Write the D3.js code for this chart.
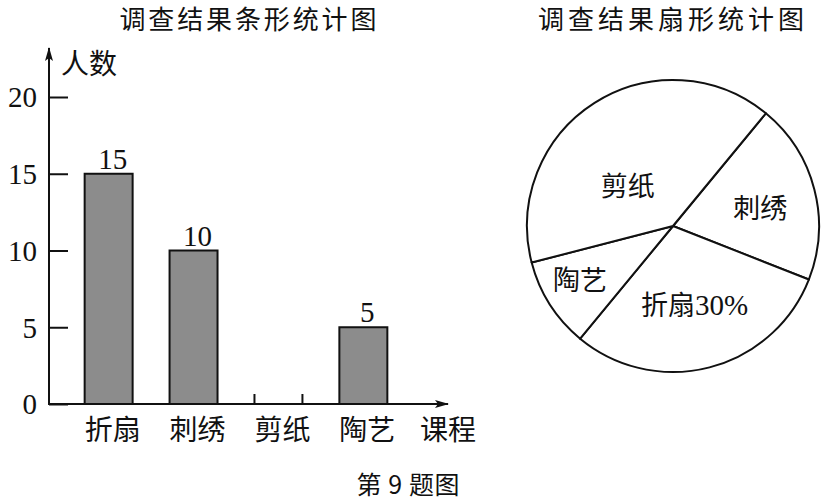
<!DOCTYPE html>
<html lang="zh">
<head>
<meta charset="UTF-8">
<title>调查结果统计图</title>
<script src="https://d3js.org/d3.v7.min.js"></script>
<style>
  body { margin: 0; background: #fff; }
  svg { display: block; }
  .cjk { font-family: "Noto Sans CJK SC", sans-serif; }
  .num { font-family: "Liberation Serif", "Times New Roman", serif; }
</style>
</head>
<body>
<div id="chart"></div>
<script>
// data
const courses = ["折扇", "刺绣", "剪纸", "陶艺"];
const counts = [15, 10, null, 5];          // 剪纸 bar left blank in the figure
const yTicks = [0, 5, 10, 15, 20];
const pieOrder = ["刺绣", "折扇", "陶艺", "剪纸"];
const pieCounts = [10, 15, 5, 20];
const pieLabels = ["刺绣", "折扇", "陶艺", "剪纸"];

const W = 824, H = 502;
const svg = d3.select("#chart").append("svg")
    .attr("width", W).attr("height", H);

const defs = svg.append("defs");
defs.append("marker")
    .attr("id", "arrow")
    .attr("viewBox", "0 0 14 8")
    .attr("refX", 13).attr("refY", 4)
    .attr("markerWidth", 14).attr("markerHeight", 8)
    .attr("markerUnits", "userSpaceOnUse")
    .attr("orient", "auto")
    .append("path")
    .attr("d", "M0,0 L14,4 L0,8 L3,4 Z")
    .attr("fill", "#111");

// ---------- bar chart ----------
const x0 = 49, yBase = 404;
const x = d3.scaleBand()
    .domain(courses)
    .range([x0, 423])
    .paddingInner(0.435)
    .paddingOuter(0.42);
const y = d3.scaleLinear().domain([0, 20]).range([yBase, 97]);

svg.append("text").attr("class", "cjk")
    .attr("x", 248).attr("y", 29)
    .attr("text-anchor", "middle")
    .attr("font-size", 26).attr("fill", "#111")
    .attr("textLength", 257).attr("lengthAdjust", "spacing")
    .text("调查结果条形统计图");

const yAxis = svg.append("g")
    .attr("transform", `translate(${x0},0)`)
    .call(d3.axisLeft(y).tickValues(yTicks)
        .tickSizeInner(-19).tickSizeOuter(0).tickPadding(12));
yAxis.select(".domain").remove();
yAxis.selectAll(".tick line").attr("stroke", "#111").attr("stroke-width", 2);
yAxis.selectAll(".tick text")
    .attr("class", "num")
    .attr("font-size", 29)
    .attr("fill", "#111")
    .attr("dy", "0.34em");

// axis lines with arrows
svg.append("line")
    .attr("x1", x0).attr("y1", yBase + 1)
    .attr("x2", x0).attr("y2", 48)
    .attr("stroke", "#111").attr("stroke-width", 2)
    .attr("marker-end", "url(#arrow)");
svg.append("line")
    .attr("x1", x0 - 1).attr("y1", yBase)
    .attr("x2", 448).attr("y2", yBase)
    .attr("stroke", "#111").attr("stroke-width", 2)
    .attr("marker-end", "url(#arrow)");

svg.append("text").attr("class", "cjk")
    .attr("x", 89).attr("y", 64).attr("dy", "0.36em")
    .attr("text-anchor", "middle")
    .attr("font-size", 28).attr("fill", "#111")
    .text("人数");

const barData = courses.map((c, i) => ({ course: c, value: counts[i] }));

svg.append("g").selectAll("rect")
    .data(barData.filter(d => d.value != null))
    .join("rect")
    .attr("x", d => x(d.course))
    .attr("y", d => y(d.value))
    .attr("width", x.bandwidth())
    .attr("height", d => y(0) - y(d.value))
    .attr("fill", "#8c8c8c")
    .attr("stroke", "#111")
    .attr("stroke-width", 2);

// value labels
svg.append("g").selectAll("text")
    .data(barData.filter(d => d.value != null))
    .join("text")
    .attr("class", "num")
    .attr("x", d => x(d.course) + x.bandwidth() / 2 + 4)
    .attr("y", d => y(d.value) - 5)
    .attr("text-anchor", "middle")
    .attr("font-size", 29).attr("fill", "#111")
    .text(d => d.value);

// small edge marks for the empty bar
const empty = barData.filter(d => d.value == null);
svg.append("g").selectAll("line")
    .data(empty.flatMap(d => [x(d.course), x(d.course) + x.bandwidth()]))
    .join("line")
    .attr("x1", d => d).attr("x2", d => d)
    .attr("y1", yBase).attr("y2", yBase - 10)
    .attr("stroke", "#111").attr("stroke-width", 2);

// category labels
svg.append("g").selectAll("text")
    .data(courses)
    .join("text")
    .attr("class", "cjk")
    .attr("x", d => x(d) + x.bandwidth() / 2 + 4)
    .attr("y", 430).attr("dy", "0.36em")
    .attr("text-anchor", "middle")
    .attr("font-size", 28).attr("fill", "#111")
    .text(d => d);

svg.append("text").attr("class", "cjk")
    .attr("x", 448).attr("y", 430).attr("dy", "0.36em")
    .attr("text-anchor", "middle")
    .attr("font-size", 28).attr("fill", "#111")
    .text("课程");

// ---------- pie chart ----------
const cx = 673, cy = 226, R = 146;
svg.append("text").attr("class", "cjk")
    .attr("x", 671).attr("y", 29)
    .attr("text-anchor", "middle")
    .attr("font-size", 26).attr("fill", "#111")
    .attr("textLength", 266).attr("lengthAdjust", "spacing")
    .text("调查结果扇形统计图");

const start = 39.5 * Math.PI / 180;
const pie = d3.pie().sort(null).value(d => d.value)
    .startAngle(start).endAngle(start + 2 * Math.PI);
const arcs = pie(pieOrder.map((k, i) => ({ key: k, value: pieCounts[i], label: pieLabels[i] })));
const total = d3.sum(pieCounts);

const arc = d3.arc().innerRadius(0).outerRadius(R);
const pg = svg.append("g").attr("transform", `translate(${cx},${cy})`);
pg.selectAll("path")
    .data(arcs)
    .join("path")
    .attr("d", arc)
    .attr("fill", "#fff")
    .attr("stroke", "#111")
    .attr("stroke-width", 2)
    .attr("stroke-linejoin", "round");

// label placement: radius along mid-angle plus a small nudge
const labelPos = {
  "刺绣": { r: 88, dx: 2, dy: 4 },
  "折扇": { r: 82, dx: 1, dy: 0 },
  "陶艺": { r: 108, dx: -2, dy: -4 },
  "剪纸": { r: 60, dx: -13, dy: 11 }
};
const lbl = pg.selectAll("text.slice")
    .data(arcs)
    .join("text")
    .attr("class", "slice cjk")
    .attr("transform", d => {
      const p = labelPos[d.data.key];
      const c = d3.arc().innerRadius(p.r).outerRadius(p.r).centroid(d);
      return `translate(${c[0] + p.dx},${c[1] + p.dy})`;
    })
    .attr("dy", "0.36em")
    .attr("text-anchor", "middle")
    .attr("font-size", 27).attr("fill", "#111");
lbl.append("tspan").text(d => d.data.label);
lbl.filter(d => d.data.key === "折扇")
    .append("tspan")
    .attr("class", "num")
    .attr("font-size", 29)
    .text(d => Math.round(d.data.value / total * 100) + "%");

// caption
svg.append("text").attr("class", "cjk")
    .attr("x", 408).attr("y", 485).attr("dy", "0.36em")
    .attr("text-anchor", "middle")
    .attr("font-size", 25).attr("fill", "#111")
    .attr("textLength", 103).attr("lengthAdjust", "spacing")
    .text("第 9 题图");
</script>
</body>
</html>
